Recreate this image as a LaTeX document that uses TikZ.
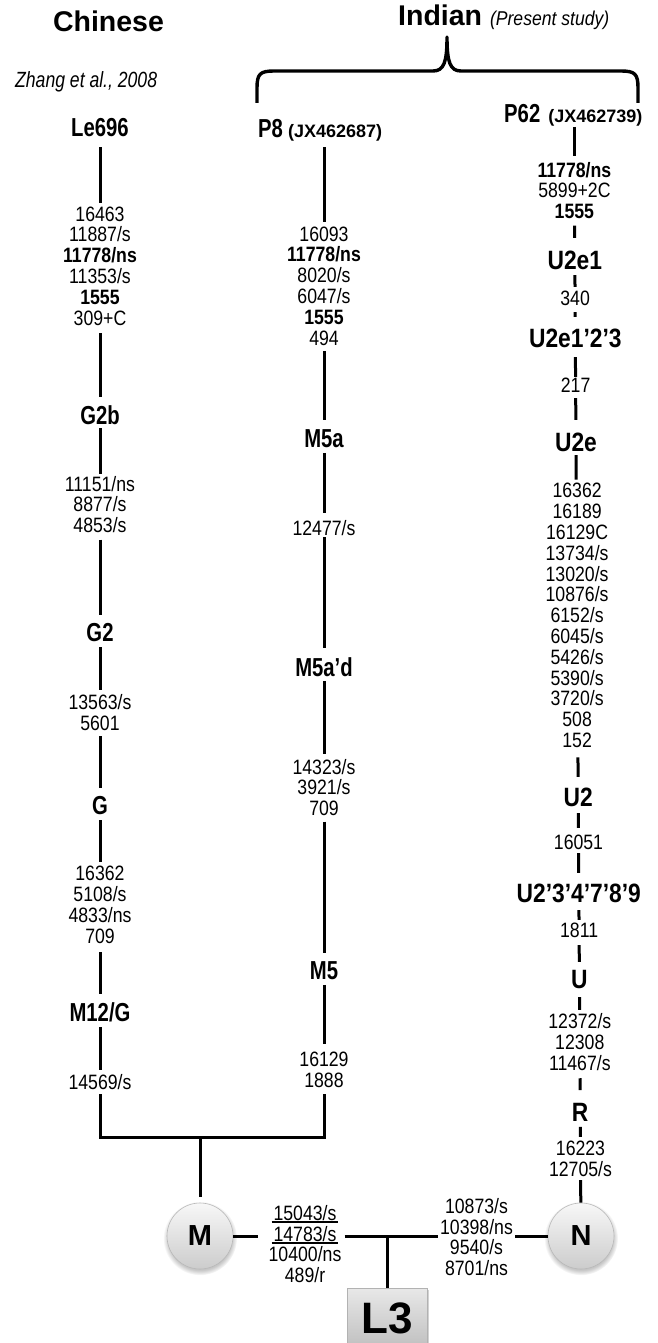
\documentclass[tikz,border=0pt]{standalone}
\usepackage{fontspec}
\setmainfont{Liberation Sans}
\newfontfamily\nfont{Liberation Sans}[FakeStretch=0.85]
\newfontfamily\lfont{Liberation Sans}[FakeStretch=0.78]
\newfontfamily\rfont{Liberation Sans}[FakeStretch=0.86]
\newfontfamily\zfont{Liberation Sans}[FakeStretch=0.8]
\newfontfamily\pfont{Liberation Sans}[FakeStretch=0.88]
\usetikzlibrary{shadows}
\newsavebox\ulbox
\newcommand\ulx[1]{\leavevmode\sbox\ulbox{#1}\rlap{\kern-2pt\rule[-2.8pt]{\dimexpr\wd\ulbox+4pt\relax}{1.8pt}}\usebox\ulbox}
\newcommand\jxtext[1]{{\rmfamily\bfseries\fontsize{18}{20}\selectfont #1}}
\begin{document}
\begin{tikzpicture}[x=1pt,y=-1pt,
  num/.style={font=\nfont\fontsize{20.8}{20.8}\selectfont, align=center, inner sep=0pt},
  lab/.style={font=\lfont\bfseries\fontsize{26}{28}\selectfont, inner sep=0pt},
  rlab/.style={font=\rfont\bfseries\fontsize{26.5}{28}\selectfont, inner sep=0pt},
  edge/.style={line width=3pt},
  lnk/.style 2 args={edge, shorten <=#1pt, shorten >=#2pt},
  circ/.style={circle, minimum size=66pt, inner sep=0pt, draw=gray!55, line width=0.6pt,
    top color=gray!6, bottom color=gray!40,
    circular drop shadow={shadow xshift=0pt, shadow yshift=-2pt, shadow scale=1.12, opacity=0.45},
    font=\bfseries\fontsize{29}{30}\selectfont},
  l3box/.style={rectangle, minimum width=80pt, minimum height=60pt, inner sep=0pt,
    draw=gray!60, line width=1pt, top color=gray!18, bottom color=gray!50,
    drop shadow={shadow xshift=1.5pt, shadow yshift=-1.5pt, opacity=0.35},
    font=\bfseries\fontsize{44}{46}\selectfont}
]
\fill[white] (0,0) rectangle (657,1343);
\useasboundingbox (0,0) rectangle (657,1343);

% headers
\node[anchor=base, inner sep=0pt, font=\bfseries\fontsize{28.5}{30}\selectfont] (chn) at (108.5,31.5) {Chinese};
\node[anchor=base west, inner sep=0pt, font=\bfseries\fontsize{28.5}{30}\selectfont] (ind) at (398,26)
  {Indian {\pfont\mdseries\itshape\fontsize{20}{22}\selectfont(Present study)}};
\node[anchor=base west, inner sep=0pt, font=\zfont\itshape\fontsize{22}{24}\selectfont] (zh) at (15,88) {Zhang et al., 2008};

% brace
\draw[line width=3.4pt, line join=round]
  (257,103) -- (257,88) .. controls (257,74) and (260,71) .. (274,71) -- (433,71)
  .. controls (444,71) and (447,62) .. (447,37)
  .. controls (447,62) and (450,71) .. (461,71) -- (621,71)
  .. controls (635,71) and (638,74) .. (638,88) -- (638,103);

% left column
\node[lab] (le) at (100,128) {Le696};
\node[num] (a1) at (100,266) {16463\\11887/s\\{\bfseries 11778/ns}\\11353/s\\{\bfseries 1555}\\309+C};
\node[lab] (g2b) at (100,415) {G2b};
\node[num] (a2) at (100,504.5) {11151/ns\\8877/s\\4853/s};
\node[lab] (g2) at (100,633) {G2};
\node[num] (a3) at (100,712.5) {13563/s\\5601};
\node[lab] (gg) at (100,806) {G};
\node[num] (a4) at (100,905) {16362\\5108/s\\4833/ns\\709};
\node[lab] (m12) at (100,1012) {M12/G};
\node[num] (a5) at (100,1082) {14569/s};

% middle column
\node[lab, anchor=base west] (p8) at (258,138) {P8\hspace{5pt}\jxtext{(JX462687)}};
\node[num] (b1) at (324,286) {16093\\{\bfseries 11778/ns}\\8020/s\\6047/s\\{\bfseries 1555}\\494};
\node[lab] (m5a) at (324,439) {M5a};
\node[num] (b2) at (324,528) {12477/s};
\node[lab] (m5ad) at (324,667) {M5a’d};
\node[num] (b3) at (324,787.5) {14323/s\\3921/s\\709};
\node[lab] (m5) at (324,971) {M5};
\node[num] (b4) at (324,1070) {16129\\1888};

% right column
\node[lab, anchor=base west] (p62) at (504,123) {P62\hspace{8pt}\jxtext{(JX462739)}};
\node[num] (c1) at (574.4,190.5) {{\bfseries 11778/ns}\\5899+2C\\{\bfseries 1555}};
\node[rlab] (u2e1) at (574.8,260) {U2e1};
\node[num] (c2) at (575.1,298) {340};
\node[rlab] (u2e123) at (575.3,338) {U2e1’2’3};
\node[num] (c3) at (575.6,385) {217};
\node[rlab] (u2e) at (576,442) {U2e};
\node[num] (c4) at (577.1,615.5) {16362\\16189\\16129C\\13734/s\\13020/s\\10876/s\\6152/s\\6045/s\\5426/s\\5390/s\\3720/s\\508\\152};
\node[rlab] (u2) at (578.2,797) {U2};
\node[num] (c5) at (578.5,842) {16051};
\node[rlab] (u23) at (578.8,893) {U2’3’4’7’8’9};
\node[num] (c6) at (579.1,930) {1811};
\node[rlab] (uu) at (579.4,980) {U};
\node[num] (c7) at (579.8,1042) {12372/s\\12308\\11467/s};
\node[rlab] (rr) at (580.2,1112) {R};
\node[num] (c8) at (580.5,1158.5) {16223\\12705/s};

% bottom
\node[circ] (M) at (200,1236) {M};
\node[circ] (N) at (581,1236) {N};
\node[num] (mb) at (305,1244) {\ulx{15043/s}\\\ulx{14783/s}\\10400/ns\\489/r};
\node[num] (nb) at (476.5,1237) {10873/s\\10398/ns\\9540/s\\8701/ns};
\node[l3box] (L3) at (387,1318) {L3};
\coordinate (jl) at (100,1137);
\coordinate (jr) at (324,1137);
\coordinate (jm) at (200,1137);
\coordinate (j) at (387,1236);

% left connectors
\draw[lnk={9.6}{3.6}] (le) -- (a1);
\draw[lnk={7.6}{8.6}] (a1) -- (g2b);
\draw[lnk={3.6}{1.6}] (g2b) -- (a2);
\draw[lnk={6.6}{8.6}] (a2) -- (g2);
\draw[lnk={4.6}{4.6}] (g2) -- (a3);
\draw[lnk={5.6}{8.6}] (a3) -- (gg);
\draw[lnk={4.6}{4.6}] (gg) -- (a4);
\draw[lnk={8.6}{8.6}] (a4) -- (m12);
\draw[lnk={5.6}{4.6}] (m12) -- (a5);
\draw[lnk={4.6}{5.6}, line join=miter] (a5) -- (jl) -- (jr) -- (b4);
\draw[lnk={0}{6}] (jm) -- (M);

% middle connectors
\draw[lnk={5.2}{4.6}] (p8.south -| b1) -- (b1);
\draw[lnk={5.6}{9.6}] (b1) -- (m5a);
\draw[lnk={4.6}{7.6}] (m5a) -- (b2);
\draw[lnk={1.6}{9.6}] (b2) -- (m5ad);
\draw[lnk={4.6}{4.6}] (m5ad) -- (b3);
\draw[lnk={5.6}{8.6}] (b3) -- (m5);
\draw[lnk={4.6}{7.6}] (m5) -- (b4);

% right connectors
\draw[lnk={0}{5.6}] (p62.south -| c1) -- (c1);
\draw[lnk={6.6}{12.6}] (c1) -- (u2e1);
\draw[lnk={5.6}{3.6}] (u2e1) -- (c2);
\draw[lnk={6.6}{11.6}] (c2) -- (u2e123);
\draw[lnk={9.6}{0.6}] (u2e123) -- (c3);
\draw[lnk={5.6}{12.6}] (c3) -- (u2e);
\draw[lnk={3.6}{3.6}] (u2e) -- (c4);
\draw[lnk={9.6}{10.6}] (c4) -- (u2);
\draw[lnk={6.6}{6.6}] (u2) -- (c5);
\draw[lnk={3.6}{10.6}] (c5) -- (u23);
\draw[lnk={7.6}{2.6}] (u23) -- (c6);
\draw[lnk={7.6}{8.6}] (c6) -- (uu);
\draw[lnk={7.6}{3.6}] (uu) -- (c7);
\draw[lnk={7.6}{12.6}] (c7) -- (rr);
\draw[lnk={5.6}{3.6}] (rr) -- (c8);
\draw[lnk={3.6}{0}] (c8) -- (N);

% bottom connectors
\draw[lnk={0}{10}] (M) -- (M -| mb.west);
\draw[lnk={3}{1.5}] (j -| mb.east) -- (j -| nb.west);
\draw[lnk={2}{0}] (N -| nb.east) -- (N);
\draw[edge] (j) -- (L3);
\end{tikzpicture}
\end{document}
